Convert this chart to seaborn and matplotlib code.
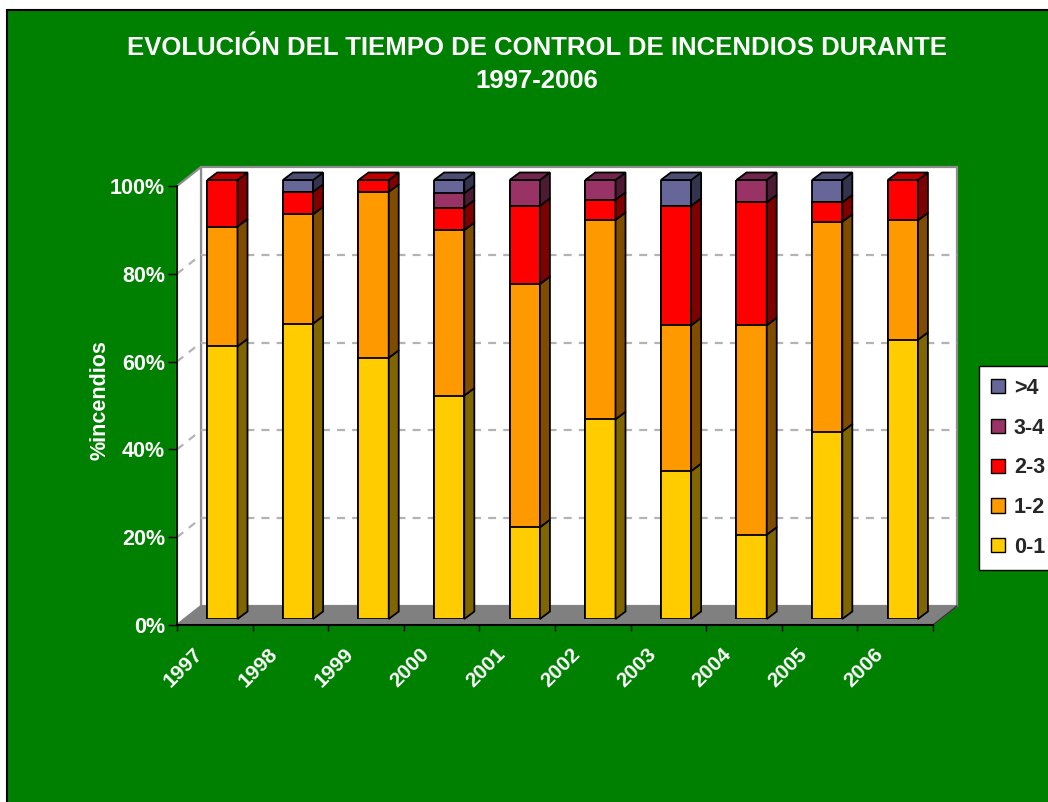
import numpy as np
import pandas as pd
import matplotlib
matplotlib.use("Agg")
import matplotlib.pyplot as plt
import matplotlib.transforms as mtransforms
import seaborn as sns
from matplotlib.patches import Polygon, Rectangle, Patch
from matplotlib.colors import to_rgb

# ---------------- data ----------------
years = ["1997", "1998", "1999", "2000", "2001", "2002", "2003", "2004", "2005", "2006"]
series_labels = ["0-1", "1-2", "2-3", "3-4", ">4"]
s_0_1 = [62.1, 67.3, 59.5, 50.9, 20.9, 45.5, 33.7, 19.2, 42.7, 63.6]
s_1_2 = [27.3, 24.9, 37.8, 37.7, 55.4, 45.4, 33.2, 47.7, 47.8, 27.2]
s_2_3 = [10.6, 5.1, 2.7, 5.1, 17.8, 4.6, 27.2, 28.0, 4.4, 9.2]
s_3_4 = [0.0, 0.0, 0.0, 3.3, 5.9, 4.5, 0.0, 5.1, 0.0, 0.0]
s_4 = [0.0, 2.7, 0.0, 3.0, 0.0, 0.0, 5.9, 0.0, 5.1, 0.0]
y_ticks = [0, 20, 40, 60, 80, 100]
y_tick_labels = ["0%", "20%", "40%", "60%", "80%", "100%"]
title_l1 = "EVOLUCIÓN DEL TIEMPO DE CONTROL DE INCENDIOS DURANTE"
title_l2 = "1997-2006"
y_label = "%incendios"

colors = ["#FFCC00", "#FF9900", "#FF0000", "#993366", "#666699"]
GREEN = "#008000"

# ---------------- figure ----------------
sns.set_style("white")
plt.rcParams["font.family"] = ["Liberation Sans", "DejaVu Sans"]
plt.rcParams["font.weight"] = "bold"

W, H, DPI = 1048, 802, 100
fig = plt.figure(figsize=(W / DPI, H / DPI), dpi=DPI, facecolor="white")

bg = Rectangle((7 / W, -0.01), 1.02, (H - 10) / H + 0.01, transform=fig.transFigure,
               facecolor=GREEN, edgecolor="black", linewidth=1.5, zorder=-10)
fig.add_artist(bg)

# front plane axes (pixel geometry)
fx0, fx1, fy_top, fy_bot = 177, 933, 186, 625
ax = fig.add_axes([fx0 / W, (H - fy_bot) / H, (fx1 - fx0) / W, (fy_bot - fy_top) / H])
ax.set_facecolor("none")
# bar plane axes (offset a bit into depth)
bdx, bdy = 7.6, 6.0
axb = fig.add_axes([(fx0 + bdx) / W, (H - fy_bot + bdy) / H, (fx1 - fx0) / W, (fy_bot - fy_top) / H])
axb.set_facecolor("none")

n = len(years)
for a in (ax, axb):
    a.set_xlim(-0.5, n - 0.5)
    a.set_ylim(0, 100)

px_x = (fx1 - fx0) / n
px_y = (fy_bot - fy_top) / 100.0

# back wall offset (pixels) -> data
bx, by = 24 / px_x, 19 / px_y
x0, x1 = -0.5, n - 0.5

back = Polygon([(x0 + bx, by), (x1 + bx, by), (x1 + bx, 100 + by), (x0 + bx, 100 + by)],
               closed=True, facecolor="white", edgecolor="#8c8c8c", linewidth=1.6,
               clip_on=False, zorder=0)
left = Polygon([(x0, 0), (x0, 100), (x0 + bx, 100 + by), (x0 + bx, by)], closed=True,
               facecolor="white", edgecolor="#8c8c8c", linewidth=1.6, clip_on=False, zorder=0.1)
floor = Polygon([(x0, 0), (x1, 0), (x1 + bx, by), (x0 + bx, by)], closed=True,
                facecolor="#808080", edgecolor="#808080", linewidth=1.0, clip_on=False, zorder=0.2)
for p in (back, left, floor):
    ax.add_patch(p)
ax.plot([x1, x1 + bx], [0, by], color="#333333", lw=1.0, clip_on=False, zorder=0.3)

for yv in y_ticks[1:-1]:
    ax.plot([x0 + bx, x1 + bx], [yv + by, yv + by], color="#b3b3b3", lw=1.6,
            dashes=(3.6, 3.2), clip_on=False, zorder=0.4)
    ax.plot([x0, x0 + bx], [yv, yv + by], color="#b3b3b3", lw=1.6,
            dashes=(3.6, 3.2), clip_on=False, zorder=0.4)

# ---------------- bars (seaborn) ----------------
series = [s_0_1, s_1_2, s_2_3, s_3_4, s_4]
cum = np.cumsum(np.array(series), axis=0)
bar_w = 0.4
for k in range(len(series) - 1, -1, -1):
    df = pd.DataFrame({"year": years, "top": cum[k]})
    sns.barplot(data=df, x="year", y="top", color=colors[k], saturation=1, width=bar_w,
                edgecolor="black", linewidth=1.3, errorbar=None, ax=axb, zorder=2)

dxd, dyd = 10 / px_x, 7.5 / px_y
for i in range(n):
    xr = i + bar_w / 2
    xl = i - bar_w / 2
    prev = 0.0
    top_k = 0
    for k in range(len(series)):
        t = cum[k][i]
        if t - prev > 1e-9:
            c = np.array(to_rgb(colors[k]))
            side = Polygon([(xr, prev), (xr, t), (xr + dxd, t + dyd), (xr + dxd, prev + dyd)],
                           closed=True, facecolor=c * 0.5, edgecolor="black", linewidth=1.3,
                           clip_on=False, zorder=2.5)
            axb.add_patch(side)
            top_k = k
        prev = t
    c = np.array(to_rgb(colors[top_k]))
    t = cum[-1][i]
    topf = Polygon([(xl, t), (xr, t), (xr + dxd, t + dyd), (xl + dxd, t + dyd)], closed=True,
                   facecolor=c * 0.75, edgecolor="black", linewidth=1.3, clip_on=False, zorder=2.6)
    axb.add_patch(topf)

axb.set_xlim(-0.5, n - 0.5)
axb.set_ylim(0, 100)
axb.axis("off")

# ---------------- front axes styling ----------------
for s in ("top", "right"):
    ax.spines[s].set_visible(False)
ax.spines["left"].set_color("black")
ax.spines["bottom"].set_color("black")
ax.spines["left"].set_linewidth(1.2)
ax.spines["bottom"].set_linewidth(1.5)
ax.spines["left"].set_zorder(5)
ax.spines["bottom"].set_zorder(5)

ax.set_yticks(y_ticks)
ax.set_yticklabels(y_tick_labels, color="white", fontsize=15.5, fontweight="bold")
ax.tick_params(axis="y", direction="out", length=6.5, width=1, color="black", pad=2, left=True)

ax.set_xticks(np.arange(-0.5, n, 1.0), minor=True)
ax.set_xticks(np.arange(n))
ax.set_xticklabels(years, rotation=45, ha="right", rotation_mode="anchor",
                   color="white", fontsize=15, fontweight="bold")
ax.tick_params(axis="x", which="major", length=0, pad=9)
ax.tick_params(axis="x", which="minor", direction="out", length=4.5, width=1, color="black",
               bottom=True)
shift = mtransforms.ScaledTranslation(-22 / DPI, -7 / DPI, fig.dpi_scale_trans)
for lab in ax.get_xticklabels():
    lab.set_transform(lab.get_transform() + shift)
ax.set_xlabel("")
ax.set_ylabel(y_label, color="white", fontsize=15.5, fontweight="bold")
ax.yaxis.set_label_coords((111 - fx0) / (fx1 - fx0), (fy_bot - 400) / (fy_bot - fy_top))
ax.grid(False)

# ---------------- title ----------------
fig.text(537 / W, 1 - 48 / H, title_l1, ha="center", va="center", color="white",
         fontsize=18.5, fontweight="bold")
fig.text(537 / W, 1 - 81 / H, title_l2, ha="center", va="center", color="white",
         fontsize=18.5, fontweight="bold")

# ---------------- legend ----------------
handles = [Patch(facecolor=colors[k], edgecolor="black", linewidth=1.0) for k in range(4, -1, -1)]
labels = [series_labels[k] for k in range(4, -1, -1)]
leg = fig.legend(handles, labels, loc="upper left", bbox_to_anchor=(979 / W, 1 - 366 / H),
                 frameon=True, fancybox=False, framealpha=1, facecolor="white",
                 edgecolor="black", prop={"weight": "bold", "size": 15.5},
                 handlelength=0.65, handleheight=0.65, handletextpad=0.42,
                 labelspacing=0.87, borderpad=0.55, borderaxespad=0)
leg.get_frame().set_linewidth(1.0)

fig.savefig("out.png", dpi=DPI, facecolor=fig.get_facecolor())
